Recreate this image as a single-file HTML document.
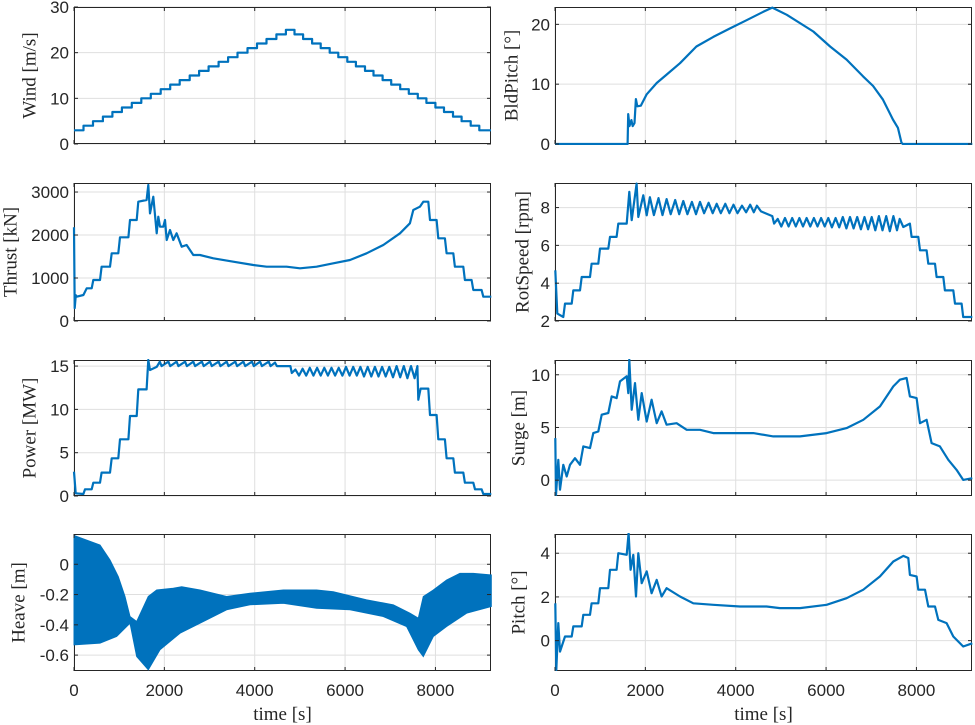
<!DOCTYPE html>
<html><head><meta charset="utf-8"><style>
html,body{margin:0;padding:0;background:#fff;}
svg{display:block;}
</style></head><body>
<svg id="fig" width="975" height="725" xmlns="http://www.w3.org/2000/svg"></svg>
<script>
const xTicks=[0,2000,4000,6000,8000];
const xTickLabels=["0","2000","4000","6000","8000"];
// Wind (step)
const windT=[0,210,420,640,850,1060,1280,1490,1700,1920,2130,2340,2560,2770,2980,3200,3410,3620,3840,4050,4260,4480,4690,4880,5070,5270,5460,5660,5850,6050,6240,6440,6630,6830,7020,7220,7410,7610,7800,8000,8190,8390,8580,8780,8970];
const windV=[3,4,5,6,7,8,9,10,11,12,13,14,15,16,17,18,19,20,21,22,23,24,25,24,23,22,21,20,19,18,17,16,15,14,13,12,11,10,9,8,7,6,5,4,3];
// BldPitch
const bpT=[0,1608,1620,1650,1690,1720,1760,1790,1822,1900,2029,2250,2470,2766,3130,3504,3870,4242,4610,4810,5130,5717,6090,6455,6820,7040,7260,7480,7590,7670,7700,9236];
const bpV=[0,0,5,3,4,3,3.5,7.5,6.3,6.4,8.3,10.2,11.6,13.5,16.3,17.9,19.3,20.7,22.1,22.8,21.6,18.8,16.3,14.1,11.3,9.7,7.4,4.1,2.7,0.2,0,0];
// Thrust
const thT=[0,15,40,59,207,281,391,428,576,612,797,834,981,1018,1203,1239,1387,1424,1608,1645,1682,1756,1830,1866,1903,1977,2014,2051,2125,2198,2272,2383,2493,2641,2788,3083,3526,3969,4264,4706,5002,5370,5739,6108,6477,6846,7215,7436,7510,7657,7731,7842,7879,8026,8063,8210,8247,8395,8432,8616,8653,8801,8838,9022,9059,9236];
const thV=[2180,300,600,566,605,760,760,953,953,1264,1264,1574,1574,1946,1946,2349,2349,2775,2814,3163,2504,2892,2039,2427,2194,2194,2349,1884,2117,1884,2039,1729,1768,1535,1535,1458,1380,1302,1264,1264,1225,1264,1341,1419,1574,1768,2039,2272,2582,2659,2775,2775,2349,2349,1923,1923,1574,1574,1264,1264,953,953,721,721,566,566];
// RotSpeed
const rsT=[7,51,184,221,369,406,553,590,774,811,959,996,1180,1217,1364,1401,1586,1645,1697,1807,1844,1955,2029,2100,2190,2290,2380,2470,2560,2660,2750,2840,2930,3030,3120,3210,3300,3400,3490,3580,3670,3770,3860,3950,4040,4140,4230,4320,4400,4470,4560,4810,4850,4930,5010,5090,5170,5250,5330,5410,5490,5570,5650,5730,5810,5890,5970,6050,6130,6210,6290,6370,6450,6530,6610,6690,6770,6850,6930,7010,7090,7170,7250,7330,7410,7490,7570,7630,7709,7856,7893,8041,8078,8225,8262,8410,8447,8594,8631,8816,8853,8999,9036,9236];
const rsV=[4.68,2.39,2.21,2.92,2.92,3.62,3.62,4.33,4.33,5.03,5.03,5.83,5.83,6.45,6.45,7.15,7.15,8.83,7.33,9.27,7.5,8.65,7.59,8.55,7.6,8.5,7.6,8.45,7.65,8.4,7.65,8.35,7.65,8.3,7.65,8.3,7.7,8.25,7.7,8.2,7.7,8.2,7.7,8.15,7.7,8.1,7.75,8.15,7.75,8.1,7.8,7.55,7.15,7.4,7.0,7.45,7.0,7.45,7.0,7.45,7.0,7.45,7.0,7.45,7.0,7.45,7.0,7.45,6.95,7.45,6.95,7.5,6.9,7.5,6.9,7.5,6.85,7.5,6.85,7.5,6.8,7.55,6.8,7.55,6.75,7.55,6.8,7.4,6.97,7.15,6.45,6.45,5.74,5.74,5.03,5.03,4.33,4.33,3.62,3.62,2.92,2.92,2.21,2.21];
// Power
const pwT=[0,37,207,244,391,428,576,612,797,834,981,1018,1203,1239,1387,1424,1608,1645,1682,1830,1900,1940,2090,2130,2270,2310,2460,2500,2640,2680,2830,2870,3010,3050,3200,3240,3380,3420,3570,3610,3750,3790,3940,3980,4120,4160,4310,4350,4450,4490,4790,4820,4900,4980,5060,5140,5220,5300,5380,5460,5540,5620,5700,5780,5860,5940,6020,6100,6180,6260,6340,6420,6500,6580,6660,6740,6820,6900,6980,7060,7140,7220,7300,7380,7460,7540,7600,7620,7672,7842,7879,8026,8063,8210,8247,8395,8432,8616,8653,8838,8875,9022,9059,9236];
const pwV=[2.8,0.31,0.23,0.77,0.77,1.54,1.54,2.7,2.7,4.35,4.35,6.54,6.54,9.23,9.23,12.31,12.31,15.7,14.54,14.9,15.5,15.0,15.5,15.0,15.5,15.0,15.5,15.0,15.5,15.0,15.5,15.0,15.5,15.0,15.5,15.0,15.5,15.0,15.5,15.0,15.5,15.0,15.5,15.0,15.5,15.0,15.5,15.0,15.4,15.0,15.0,14.2,14.6,13.9,14.7,13.9,14.8,13.9,14.8,13.9,14.8,13.9,14.8,13.9,14.8,13.9,14.9,13.9,14.9,13.9,14.9,13.8,14.9,13.8,14.9,13.8,14.9,13.8,14.9,13.7,15.0,13.7,15.0,13.6,15.0,13.6,15.0,11.1,12.4,12.4,9.35,9.35,6.54,6.54,4.35,4.35,2.7,2.7,1.54,1.54,0.77,0.77,0.23,0.23];
// Surge
const sgT=[7,22,74,111,184,258,332,443,553,627,774,848,959,1033,1180,1254,1364,1438,1586,1623,1645,1697,1770,1844,1918,2029,2139,2250,2360,2471,2692,2914,3209,3504,3946,4389,4832,5422,6012,6455,6824,7193,7488,7635,7783,7856,8004,8078,8225,8336,8520,8705,8889,9036,9236];
const sgV=[3.99,-1.4,1.93,-0.9,1.46,0.35,1.46,2.09,1.46,3.2,3.04,4.47,4.62,6.21,6.37,7.95,7.79,9.37,9.85,8.26,11.43,6.68,9.21,5.73,8.26,5.57,7.63,5.41,6.52,5.26,5.41,4.78,4.78,4.47,4.47,4.47,4.15,4.15,4.47,4.94,5.73,7.0,8.9,9.53,9.69,7.95,7.79,5.41,5.73,3.52,3.2,1.93,0.98,0.03,0.19];
// Heave envelope
const hvUpT=[0,576,797,981,1129,1239,1387,1645,1830,2198,2383,2788,3378,3895,4632,5370,5739,6477,7067,7436,7620,7731,7953,8247,8542,8838,9236];
const hvUpV=[0.19,0.127,0.028,-0.082,-0.213,-0.345,-0.378,-0.213,-0.17,-0.159,-0.148,-0.17,-0.213,-0.191,-0.17,-0.17,-0.181,-0.235,-0.268,-0.323,-0.356,-0.213,-0.17,-0.104,-0.06,-0.06,-0.071];
const hvLoT=[0,576,944,1239,1387,1645,1903,2346,2788,3378,3895,4632,5370,6108,6846,7362,7620,7731,7953,8247,8690,9236];
const hvLoV=[-0.532,-0.521,-0.477,-0.389,-0.609,-0.697,-0.565,-0.455,-0.389,-0.301,-0.268,-0.257,-0.29,-0.301,-0.345,-0.411,-0.565,-0.609,-0.477,-0.411,-0.323,-0.279];
// Platform pitch
const ptT=[7,29,74,111,221,369,406,590,627,774,811,959,996,1180,1217,1364,1401,1586,1630,1674,1733,1792,1844,1918,2029,2139,2250,2360,2471,2766,3061,3504,4094,4684,4979,5422,6012,6455,6824,7193,7488,7709,7820,7856,8004,8041,8189,8262,8410,8483,8668,8816,9036,9236];
const ptV=[1.71,-1.34,0.8,-0.5,0.19,0.19,0.65,0.65,1.18,1.18,1.71,1.71,2.4,2.4,3.24,3.24,4.0,3.93,4.92,3.24,3.93,2.02,4.0,2.63,3.17,2.17,2.78,2.02,2.4,2.02,1.71,1.64,1.56,1.56,1.49,1.49,1.64,1.94,2.33,2.94,3.62,3.88,3.78,3.01,2.94,2.33,2.33,1.56,1.56,0.95,0.8,0.19,-0.27,-0.12];

const svg=document.getElementById('fig');
const NS='http://www.w3.org/2000/svg';
const XMAX=9230;
function mk(tag,attrs,parent){const e=document.createElementNS(NS,tag);for(const k in attrs)e.setAttribute(k,attrs[k]);(parent||svg).appendChild(e);return e;}

const panels=[
 {name:'wind',x0:74,y0:7,y1:144,ymin:0,ymax:30,yt:[0,10,20,30],label:'Wind [m/s]',lx:30,t:windT,v:windV,step:true},
 {name:'bldpitch',x0:555,y0:7,y1:144,ymin:0,ymax:22.9,yt:[0,10,20],label:'BldPitch [°]',lx:512,t:bpT,v:bpV},
 {name:'thrust',x0:74,y0:183,y1:321,ymin:0,ymax:3210,yt:[0,1000,2000,3000],label:'Thrust [kN]',lx:11,t:thT,v:thV},
 {name:'rotspeed',x0:555,y0:183,y1:321,ymin:2,ymax:9.3,yt:[2,4,6,8],label:'RotSpeed [rpm]',lx:523,t:rsT,v:rsV},
 {name:'power',x0:74,y0:360,y1:496,ymin:0,ymax:15.7,yt:[0,5,10,15],label:'Power [MW]',lx:30,t:pwT,v:pwV},
 {name:'surge',x0:555,y0:360,y1:496,ymin:-1.5,ymax:11.4,yt:[0,5,10],label:'Surge [m]',lx:519,t:sgT,v:sgV},
 {name:'heave',x0:74,y0:534,y1:671,ymin:-0.705,ymax:0.2,yt:[-0.6,-0.4,-0.2,0],ytl:['-0.6','-0.4','-0.2','0'],label:'Heave [m]',lx:19,band:true,xl:true},
 {name:'pitch',x0:555,y0:534,y1:671,ymin:-1.39,ymax:4.88,yt:[0,2,4],label:'Pitch [°]',lx:519,t:ptT,v:ptV,xl:true}
];
const W=417;
panels.forEach(p=>{
  const g=mk('g',{});
  
  
  const X=t=>p.x0+t/XMAX*W;
  const Y=v=>p.y1-(v-p.ymin)/(p.ymax-p.ymin)*(p.y1-p.y0);
  const clipId='c-'+p.name;
  const cp=mk('clipPath',{id:clipId},g);
  mk('rect',{x:p.x0-2,y:p.y0-1,width:W+4,height:p.y1-p.y0+2},cp);
  xTicks.forEach((t,i)=>{
    const gl=mk('line',{x1:X(t),x2:X(t),y1:p.y0,y2:p.y1,stroke:'#dfdfdf','stroke-width':1},g);
    
    
  });
  p.yt.forEach(v=>{
    const gl=mk('line',{x1:p.x0,x2:p.x0+W,y1:Y(v),y2:Y(v),stroke:'#dfdfdf','stroke-width':1},g);
    
    
  });
  const b=mk('rect',{x:p.x0+0.5,y:p.y0+0.5,width:W-1,height:p.y1-p.y0-1,fill:'none',stroke:'#262626','stroke-width':1},g);
  
  
  if(p.band){
    let d='';
    hvUpT.forEach((t,i)=>{d+=(i?'L':'M')+X(t).toFixed(1)+','+Y(hvUpV[i]).toFixed(1);});
    for(let i=hvLoT.length-1;i>=0;i--){d+='L'+X(hvLoT[i]).toFixed(1)+','+Y(hvLoV[i]).toFixed(1);}
    const s=mk('path',{d:d+'Z',fill:'#0072BD',stroke:'#0072BD','stroke-width':1,'clip-path':'url(#'+clipId+')'},g);
    
    
  } else {
    let d='';
    p.t.forEach((t,i)=>{
      if(i===0){d+='M'+X(t).toFixed(1)+','+Y(p.v[i]).toFixed(1);}
      else{
        if(p.step)d+='L'+X(t).toFixed(1)+','+Y(p.v[i-1]).toFixed(1);
        d+='L'+X(t).toFixed(1)+','+Y(p.v[i]).toFixed(1);
      }
    });
    if(p.step)d+='L'+X(XMAX).toFixed(1)+','+Y(p.v[p.v.length-1]).toFixed(1);
    const s=mk('path',{d:d,fill:'none',stroke:'#0072BD','stroke-width':2.2,'stroke-linejoin':'round','clip-path':'url(#'+clipId+')'},g);
    
    
  }
  xTicks.forEach((t,i)=>{
    mk('line',{x1:X(t),x2:X(t),y1:p.y1,y2:p.y1-4,stroke:'#262626'},g);
    mk('line',{x1:X(t),x2:X(t),y1:p.y0,y2:p.y0+4,stroke:'#262626'},g);
    if(p.xl){
      const tx=mk('text',{x:X(t),y:p.y1+25,'text-anchor':'middle','font-family':'Liberation Sans, Arial, sans-serif','font-size':17,fill:'#262626'},g);
      tx.textContent=xTickLabels[i];
      
      
    }
  });
  p.yt.forEach((v,i)=>{
    mk('line',{x1:p.x0,x2:p.x0+4,y1:Y(v),y2:Y(v),stroke:'#262626'},g);
    mk('line',{x1:p.x0+W,x2:p.x0+W-4,y1:Y(v),y2:Y(v),stroke:'#262626'},g);
    const tx=mk('text',{x:p.x0-5,y:Y(v)+6,'text-anchor':'end','font-family':'Liberation Sans, Arial, sans-serif','font-size':17,fill:'#262626'},g);
    tx.textContent=p.ytl?p.ytl[i]:String(v);
    
    
  });
  const cy=(p.y0+p.y1)/2;
  const yl=mk('text',{x:p.lx,y:cy,transform:'rotate(-90 '+p.lx+' '+cy+')','text-anchor':'middle','dominant-baseline':'central','font-family':'Liberation Serif, serif','font-size':19,fill:'#262626'},g);
  yl.textContent=p.label;
  
  
  if(p.xl){
    const xl=mk('text',{x:p.x0+W/2,y:p.y1+49,'text-anchor':'middle','font-family':'Liberation Serif, serif','font-size':19,fill:'#262626'},g);
    xl.textContent='time [s]';
    
    
  }
});
</script>
</body></html>
